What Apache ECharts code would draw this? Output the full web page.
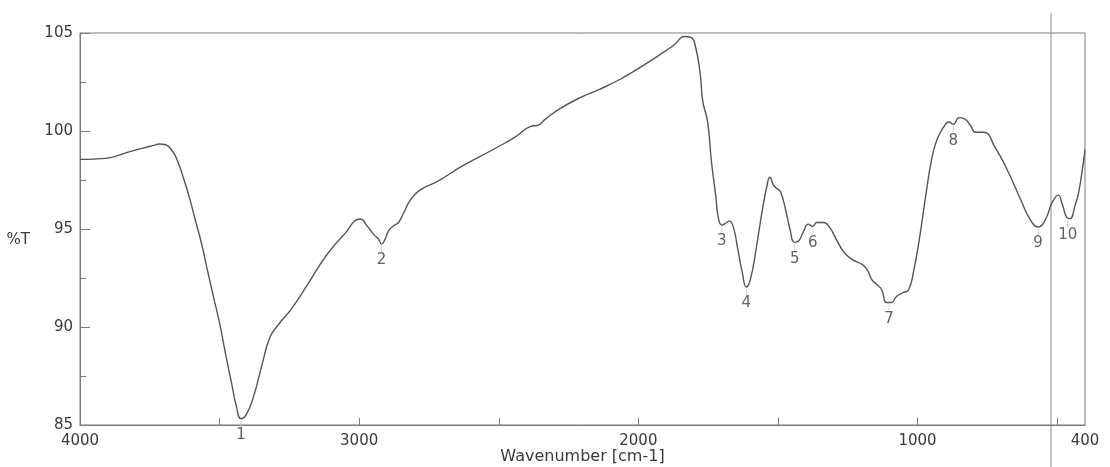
<!DOCTYPE html>
<html><head><meta charset="utf-8">
<script src="https://cdn.jsdelivr.net/npm/echarts@6/dist/echarts.min.js"></script>
<style>html,body{margin:0;padding:0;background:#fff}#c{width:1110px;height:467px}</style>
</head><body><div id="c"></div>
<script>
// FTIR spectrum values
const wavenumber = [4000,3939,3891,3831,3771,3735,3717,3693,3670,3653,
  3630,3608,3586,3564,3543,3521,3499,3478,3456,3440,
  3423,3405,3380,3348,3321,3291,3241,3179,3117,3057,
  2995,2972,2949,2931,2920,2907,2895,2877,2859,2840,
  2815,2778,2718,2633,2512,2440,2385,2361,2331,2282,
  2210,2137,2065,2005,1932,1871,1835,1811,1794,1778,
  1769,1752,1738,1723,1713,1701,1689,1674,1660,1644,
  1628,1613,1598,1578,1557,1539,1529,1515,1501,1490,
  1473,1457,1440,1425,1410,1391,1375,1361,1337,1314,
  1291,1262,1233,1197,1180,1163,1145,1128,1111,1093,
  1075,1051,1032,1013,992,971,950,931,906,887,
  872,851,833,810,793,763,722,677,631,597,
  568,543,518,496,481,465,454,435,422,407,400];
const transmittance = [98.55,98.58,98.64,98.91,99.14,99.27,99.34,99.30,98.99,98.56,
  97.63,96.60,95.41,94.22,92.86,91.49,90.13,88.59,87.06,85.96,
  85.32,85.52,86.37,88.07,89.43,90.09,90.95,92.30,93.66,94.67,
  95.51,95.17,94.74,94.49,94.23,94.48,94.91,95.16,95.33,95.84,
  96.51,97.02,97.44,98.19,99.12,99.70,100.24,100.29,100.63,101.13,
  101.69,102.14,102.64,103.14,103.81,104.40,104.82,104.77,104.22,102.86,
  101.50,100.48,98.43,96.73,95.54,95.20,95.28,95.40,95.11,94.00,
  92.81,92.04,92.46,93.99,95.86,97.22,97.64,97.22,97.04,96.87,
  96.02,95.00,94.32,94.40,94.82,95.25,95.13,95.33,95.33,95.07,
  94.47,93.79,93.44,93.18,92.92,92.41,92.16,91.90,91.25,91.25,
  91.56,91.76,91.89,92.91,94.61,96.65,98.51,99.53,100.21,100.46,
  100.34,100.68,100.63,100.28,99.94,99.94,99.17,97.97,96.52,95.50,
  95.10,95.44,96.34,96.73,96.25,95.58,95.53,96.24,96.92,98.28,99.05];

const peakNames = ['1','2','3','4','5','6','7','8','9','10'];
const peakWavenumber = [3423,2920,1701,1613,1440,1375,1102,872,568,462];
const peakTransmittance = [85.32,94.23,95.20,92.04,94.32,95.13,91.25,100.34,95.10,95.55];

const xTickValues = [4000,3500,3000,2500,2000,1500,1000,500];
const xLabelValues = [4000,3000,2000,1000,400];

const spectrum = wavenumber.map((w, i) => [w, transmittance[i]]);
const peaks = peakWavenumber.map((w, i) => ({ value: [w, peakTransmittance[i]], name: peakNames[i] }));

const textColor = '#3a3a3a';
const axisColor = '#7a7a7a';
const font = 'DejaVu Sans, Liberation Sans, sans-serif';

const chart = echarts.init(document.getElementById('c'), null, { renderer: 'canvas' });
chart.setOption({
  animation: false,
  backgroundColor: '#fff',
  grid: { left: 80, right: 25, top: 33, bottom: 42, containLabel: false, outerBoundsMode: 'none',
    show: true, borderColor: axisColor, borderWidth: 1 },
  xAxis: {
    type: 'value', inverse: true, min: 400, max: 4000,
    name: 'Wavenumber [cm-1]', nameLocation: 'middle', nameGap: 24, nameMoveOverlap: false,
    nameTextStyle: { color: textColor, fontSize: 16, fontFamily: font },
    axisLine: { lineStyle: { color: axisColor } },
    axisTick: { inside: true, length: 7, lineStyle: { color: axisColor }, customValues: xTickValues },
    axisLabel: { color: textColor, fontSize: 15, fontFamily: font, margin: 9, customValues: xLabelValues,
      showMinLabel: true, showMaxLabel: true, formatter: v => String(v) },
    splitLine: { show: false }
  },
  yAxis: {
    type: 'value', min: 85, max: 105, interval: 5,
    name: '%T', nameLocation: 'middle', nameRotate: 0, nameGap: 50,
    nameTextStyle: { color: textColor, fontSize: 15, fontFamily: font, verticalAlign: 'top', padding: [4, 0, 0, 0] },
    axisLine: { show: true, lineStyle: { color: axisColor } },
    axisTick: { inside: true, length: 10, lineStyle: { color: axisColor } },
    minorTick: { show: true, splitNumber: 2, length: 6, lineStyle: { color: axisColor } },
    axisLabel: { color: textColor, fontSize: 15, fontFamily: font, margin: 7, formatter: v => String(v) },
    splitLine: { show: false }
  },
  series: [
    {
      type: 'line', data: spectrum, showSymbol: false, smooth: 0.5,
      lineStyle: { color: '#555', width: 1.4 }, silent: true
    },
    {
      type: 'scatter', data: peaks, symbol: 'rect', symbolSize: [1, 6], symbolOffset: [0, 5],
      itemStyle: { color: '#c8c8c8' }, silent: true,
      label: { show: true, position: 'bottom', distance: 1, formatter: p => p.name, color: textColor, fontSize: 15, fontFamily: font }
    }
  ],
  graphic: [
    { type: 'line', shape: { x1: 1051, y1: 13, x2: 1051, y2: 467 }, style: { stroke: '#8a8a8a', lineWidth: 1 }, silent: true }
  ]
});
</script>
</body></html>
